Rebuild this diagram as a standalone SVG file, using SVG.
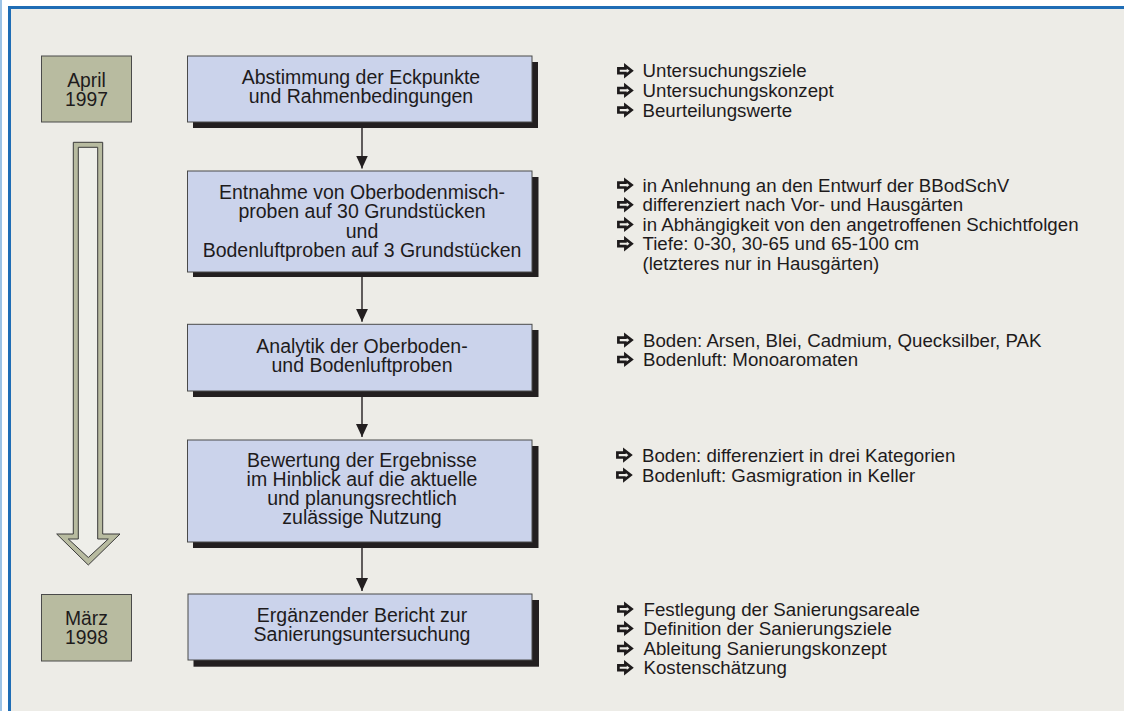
<svg xmlns="http://www.w3.org/2000/svg" width="1124" height="711" viewBox="0 0 1124 711">
  <style>
    text { font-family: "Liberation Sans", Arial, Helvetica, sans-serif; fill: #1e1b1c; }
    .box { fill: #cbd3eb; stroke: #4a4a4a; stroke-width: 1; }
    .shadow { fill: #231f20; }
    .date { fill: #b8bba0; stroke: #4a4a4a; stroke-width: 1; }
    .boxtxt { font-size: 19.5px; text-anchor: middle; }
    .datetxt { font-size: 19.3px; text-anchor: middle; }
    .note { font-size: 18.7px; }
    .conn { stroke: #231f20; stroke-width: 1.4; fill: none; }
    .bullet { fill: #edece7; stroke: #1e1b1c; stroke-width: 2.7; stroke-linejoin: miter; }
  </style>
  <defs>
    <marker id="tip" markerWidth="12" markerHeight="13" refX="6" refY="13" orient="0" markerUnits="userSpaceOnUse" viewBox="0 0 12 13">
      <path d="M0,0 L12,0 L6,13 Z" fill="#231f20"/>
    </marker>
    <path id="bul" class="bullet" d="M1.4,-2.4 H8.4 V-4.9 L14.6,0 L8.4,4.9 V2.4 H1.4 Z"/>
  </defs>

  <!-- page frame -->
  <rect x="0" y="0" width="1124" height="711" fill="#ffffff"/>
  <rect x="0" y="0" width="2" height="711" fill="#9cc3e6"/>
  <rect x="8" y="6" width="1116" height="705" fill="#edece7"/>
  <rect x="8" y="6" width="1116" height="3" fill="#1f6db5"/>
  <rect x="8" y="6" width="3" height="705" fill="#1f6db5"/>

  <!-- time line -->
  <g id="date-start">
    <rect class="date" x="41.5" y="56" width="90" height="66"/>
    <text class="datetxt" x="86.5" y="86.5">April</text>
    <text class="datetxt" x="86.5" y="105.5">1997</text>
  </g>
  <g id="timeline-arrow">
    <path d="M73.3,142.3 H102.7 V534 H120 L88.3,565 L56.7,534 H73.3 Z" fill="#b8bba0" stroke="#3a3a3a" stroke-width="1"/>
    <path d="M78.3,147.3 H97.7 V539 H108.3 L88.3,557.5 L68.3,539 H78.3 Z" fill="#eeeee9" stroke="#3a3a3a" stroke-width="1"/>
  </g>
  <g id="date-end">
    <rect class="date" x="41.5" y="594.5" width="90" height="66.5"/>
    <text class="datetxt" x="86.5" y="624.5">März</text>
    <text class="datetxt" x="86.5" y="644">1998</text>
  </g>

  <!-- connectors -->
  <g id="connectors">
    <line class="conn" x1="362" y1="122" x2="362" y2="168.5" marker-end="url(#tip)"/>
    <line class="conn" x1="362" y1="272" x2="362" y2="321.8" marker-end="url(#tip)"/>
    <line class="conn" x1="362" y1="391" x2="362" y2="437" marker-end="url(#tip)"/>
    <line class="conn" x1="362" y1="542" x2="362" y2="591" marker-end="url(#tip)"/>
  </g>

  <!-- process steps -->
  <g id="step1">
    <rect class="shadow" x="193" y="62" width="345" height="66"/>
    <rect class="box" x="187.5" y="56" width="344.5" height="66"/>
    <text class="boxtxt" x="361" y="84">Abstimmung der Eckpunkte</text>
    <text class="boxtxt" x="361" y="103">und Rahmenbedingungen</text>
  </g>
  <g id="step2">
    <rect class="shadow" x="193" y="177" width="345.5" height="100"/>
    <rect class="box" x="187.5" y="171" width="344.5" height="101"/>
    <text class="boxtxt" x="362" y="199">Entnahme von Oberbodenmisch-</text>
    <text class="boxtxt" x="362" y="218.3">proben auf 30 Grundstücken</text>
    <text class="boxtxt" x="362" y="237.5">und</text>
    <text class="boxtxt" x="362" y="256.7">Bodenluftproben auf 3 Grundstücken</text>
  </g>
  <g id="step3">
    <rect class="shadow" x="193" y="330" width="345.5" height="67"/>
    <rect class="box" x="187.5" y="324.3" width="344.5" height="66.7"/>
    <text class="boxtxt" x="362" y="352.7">Analytik der Oberboden-</text>
    <text class="boxtxt" x="362" y="371.7">und Bodenluftproben</text>
  </g>
  <g id="step4">
    <rect class="shadow" x="193" y="446" width="345.5" height="102"/>
    <rect class="box" x="187.5" y="440" width="344.5" height="102"/>
    <text class="boxtxt" x="362" y="466.7">Bewertung der Ergebnisse</text>
    <text class="boxtxt" x="362" y="485.7">im Hinblick auf die aktuelle</text>
    <text class="boxtxt" x="362" y="504.7">und planungsrechtlich</text>
    <text class="boxtxt" x="362" y="524">zulässige Nutzung</text>
  </g>
  <g id="step5">
    <rect class="shadow" x="193.5" y="600" width="345.5" height="66.7"/>
    <rect class="box" x="188" y="594" width="344" height="66"/>
    <text class="boxtxt" x="362" y="621.7">Ergänzender Bericht zur</text>
    <text class="boxtxt" x="362" y="641">Sanierungsuntersuchung</text>
  </g>

  <!-- remarks -->
  <g id="notes1">
    <use href="#bul" x="617" y="70.7"/>
    <use href="#bul" x="617" y="90.4"/>
    <use href="#bul" x="617" y="110.1"/>
    <text class="note" x="642.5" y="77.3">Untersuchungsziele</text>
    <text class="note" x="642.5" y="97">Untersuchungskonzept</text>
    <text class="note" x="642.5" y="116.7">Beurteilungswerte</text>
  </g>
  <g id="notes2">
    <use href="#bul" x="617" y="185.1"/>
    <use href="#bul" x="617" y="204.7"/>
    <use href="#bul" x="617" y="224.4"/>
    <use href="#bul" x="617" y="243.7"/>
    <text class="note" x="642.5" y="191.7">in Anlehnung an den Entwurf der BBodSchV</text>
    <text class="note" x="642.5" y="211.3">differenziert nach Vor- und Hausgärten</text>
    <text class="note" x="642.5" y="231">in Abhängigkeit von den angetroffenen Schichtfolgen</text>
    <text class="note" x="642.5" y="250.3">Tiefe: 0-30, 30-65 und 65-100 cm</text>
    <text class="note" x="642.5" y="270">(letzteres nur in Hausgärten)</text>
  </g>
  <g id="notes3">
    <use href="#bul" x="617" y="340.1"/>
    <use href="#bul" x="617" y="359.4"/>
    <text class="note" x="643" y="346.7">Boden: Arsen, Blei, Cadmium, Quecksilber, PAK</text>
    <text class="note" x="643" y="366">Bodenluft: Monoaromaten</text>
  </g>
  <g id="notes4">
    <use href="#bul" x="616" y="455.1"/>
    <use href="#bul" x="616" y="475.1"/>
    <text class="note" x="642" y="461.7">Boden: differenziert in drei Kategorien</text>
    <text class="note" x="642" y="481.7">Bodenluft: Gasmigration in Keller</text>
  </g>
  <g id="notes5">
    <use href="#bul" x="617" y="609.1"/>
    <use href="#bul" x="617" y="628.4"/>
    <use href="#bul" x="617" y="648.4"/>
    <use href="#bul" x="617" y="667.7"/>
    <text class="note" x="643.5" y="615.7">Festlegung der Sanierungsareale</text>
    <text class="note" x="643.5" y="635">Definition der Sanierungsziele</text>
    <text class="note" x="643.5" y="655">Ableitung Sanierungskonzept</text>
    <text class="note" x="643.5" y="674.3">Kostenschätzung</text>
  </g>
</svg>
